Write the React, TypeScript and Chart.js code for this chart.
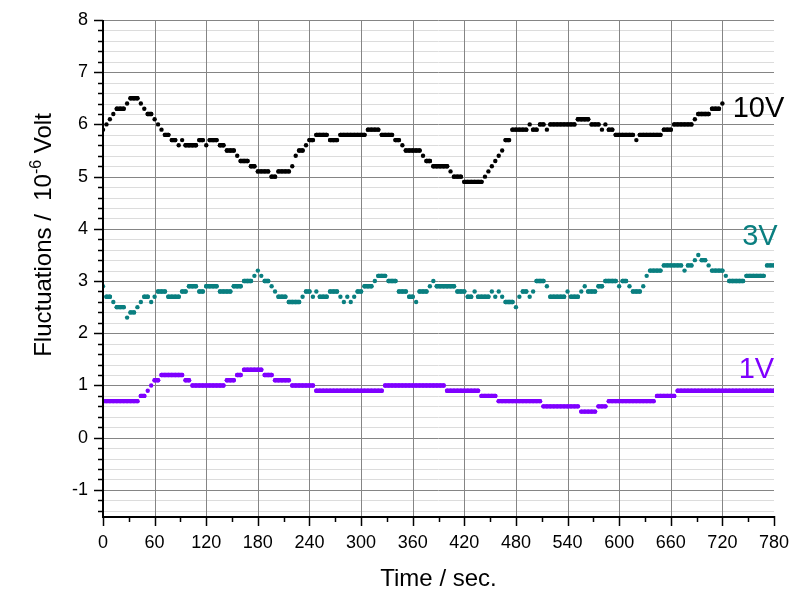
import { useEffect, useRef } from 'react';
import { Chart, registerables } from 'chart.js';

Chart.register(...registerables);

// Seconds between successive readings.
const SAMPLE_STEP = 4;

// Fluctuation readings (10^-6 V), one per sample, starting at t = 0 s.
const VOLT_10 = [
  5.9, 6.0, 6.1, 6.2, 6.3, 6.3, 6.3, 6.4, 6.5, 6.5,
  6.5, 6.4, 6.3, 6.2, 6.2, 6.1, 6.0, 5.9, 5.8, 5.8,
  5.7, 5.7, 5.6, 5.7, 5.6, 5.6, 5.6, 5.6, 5.7, 5.7,
  5.6, 5.7, 5.7, 5.7, 5.6, 5.6, 5.5, 5.5, 5.5, 5.4,
  5.3, 5.3, 5.3, 5.2, 5.2, 5.1, 5.1, 5.1, 5.1, 5.0,
  5.0, 5.1, 5.1, 5.1, 5.1, 5.2, 5.4, 5.5, 5.5, 5.6,
  5.7, 5.7, 5.8, 5.8, 5.8, 5.8, 5.7, 5.7, 5.7, 5.8,
  5.8, 5.8, 5.8, 5.8, 5.8, 5.8, 5.8, 5.9, 5.9, 5.9,
  5.9, 5.8, 5.8, 5.8, 5.8, 5.7, 5.7, 5.6, 5.5, 5.5,
  5.5, 5.5, 5.5, 5.4, 5.3, 5.3, 5.2, 5.2, 5.2, 5.2,
  5.2, 5.1, 5.0, 5.0, 5.0, 4.9, 4.9, 4.9, 4.9, 4.9,
  4.9, 5.0, 5.1, 5.2, 5.3, 5.4, 5.5, 5.7, 5.7, 5.9,
  5.9, 5.9, 5.9, 5.9, 6.0, 5.9, 5.9, 6.0, 6.0, 5.9,
  6.0, 6.0, 6.0, 6.0, 6.0, 6.0, 6.0, 6.0, 6.1, 6.1,
  6.1, 6.1, 6.0, 6.0, 6.0, 5.9, 6.0, 5.9, 5.9, 5.8,
  5.8, 5.8, 5.8, 5.8, 5.8, 5.7, 5.8, 5.8, 5.8, 5.8,
  5.8, 5.8, 5.8, 5.9, 5.9, 5.9, 6.0, 6.0, 6.0, 6.0,
  6.0, 6.0, 6.1, 6.2, 6.2, 6.2, 6.2, 6.3, 6.3, 6.3,
  6.4,
];

const VOLT_3 = [
  2.9, 2.7, 2.7, 2.6, 2.5, 2.5, 2.5, 2.3, 2.4, 2.4,
  2.5, 2.6, 2.7, 2.7, 2.6, 2.7, 2.8, 2.8, 2.8, 2.7,
  2.7, 2.7, 2.7, 2.8, 2.8, 2.9, 2.9, 2.9, 2.8, 2.8,
  2.9, 2.9, 2.9, 2.9, 2.8, 2.8, 2.8, 2.8, 2.9, 2.9,
  2.9, 3.0, 3.0, 3.0, 3.1, 3.2, 3.1, 3.0, 3.0, 2.9,
  2.8, 2.7, 2.7, 2.7, 2.6, 2.6, 2.6, 2.6, 2.7, 2.8,
  2.8, 2.7, 2.8, 2.7, 2.7, 2.7, 2.8, 2.8, 2.8, 2.7,
  2.6, 2.7, 2.6, 2.7, 2.8, 2.8, 2.9, 2.9, 2.9, 3.0,
  3.1, 3.1, 3.1, 3.0, 3.0, 3.0, 2.8, 2.8, 2.8, 2.7,
  2.7, 2.6, 2.8, 2.8, 2.8, 2.9, 3.0, 2.9, 2.9, 2.9,
  2.9, 2.9, 2.9, 2.8, 2.8, 2.8, 2.7, 2.7, 2.8, 2.7,
  2.7, 2.7, 2.7, 2.8, 2.7, 2.8, 2.7, 2.6, 2.6, 2.6,
  2.5, 2.7, 2.8, 2.8, 2.7, 2.8, 3.0, 3.0, 3.0, 2.9,
  2.7, 2.7, 2.7, 2.7, 2.7, 2.8, 2.7, 2.7, 2.7, 2.8,
  2.9, 2.8, 2.8, 2.8, 2.9, 2.9, 3.0, 3.0, 3.0, 3.0,
  2.9, 3.0, 3.0, 2.9, 2.8, 2.8, 2.8, 2.9, 3.1, 3.2,
  3.2, 3.2, 3.2, 3.3, 3.3, 3.3, 3.3, 3.3, 3.3, 3.2,
  3.3, 3.3, 3.4, 3.5, 3.4, 3.4, 3.3, 3.2, 3.2, 3.2,
  3.2, 3.1, 3.0, 3.0, 3.0, 3.0, 3.0, 3.1, 3.1, 3.1,
  3.1, 3.1, 3.1, 3.3, 3.3, 3.3,
];

const VOLT_1 = [
  0.7, 0.7, 0.7, 0.7, 0.7, 0.7, 0.7, 0.7, 0.7, 0.7,
  0.7, 0.8, 0.8, 0.9, 1.0, 1.1, 1.1, 1.2, 1.2, 1.2,
  1.2, 1.2, 1.2, 1.2, 1.1, 1.1, 1.0, 1.0, 1.0, 1.0,
  1.0, 1.0, 1.0, 1.0, 1.0, 1.0, 1.1, 1.1, 1.1, 1.2,
  1.2, 1.3, 1.3, 1.3, 1.3, 1.3, 1.3, 1.2, 1.2, 1.2,
  1.1, 1.1, 1.1, 1.1, 1.1, 1.0, 1.0, 1.0, 1.0, 1.0,
  1.0, 1.0, 0.9, 0.9, 0.9, 0.9, 0.9, 0.9, 0.9, 0.9,
  0.9, 0.9, 0.9, 0.9, 0.9, 0.9, 0.9, 0.9, 0.9, 0.9,
  0.9, 0.9, 1.0, 1.0, 1.0, 1.0, 1.0, 1.0, 1.0, 1.0,
  1.0, 1.0, 1.0, 1.0, 1.0, 1.0, 1.0, 1.0, 1.0, 1.0,
  0.9, 0.9, 0.9, 0.9, 0.9, 0.9, 0.9, 0.9, 0.9, 0.9,
  0.8, 0.8, 0.8, 0.8, 0.8, 0.7, 0.7, 0.7, 0.7, 0.7,
  0.7, 0.7, 0.7, 0.7, 0.7, 0.7, 0.7, 0.7, 0.6, 0.6,
  0.6, 0.6, 0.6, 0.6, 0.6, 0.6, 0.6, 0.6, 0.6, 0.5,
  0.5, 0.5, 0.5, 0.5, 0.6, 0.6, 0.6, 0.7, 0.7, 0.7,
  0.7, 0.7, 0.7, 0.7, 0.7, 0.7, 0.7, 0.7, 0.7, 0.7,
  0.7, 0.8, 0.8, 0.8, 0.8, 0.8, 0.8, 0.9, 0.9, 0.9,
  0.9, 0.9, 0.9, 0.9, 0.9, 0.9, 0.9, 0.9, 0.9, 0.9,
  0.9, 0.9, 0.9, 0.9, 0.9, 0.9, 0.9, 0.9, 0.9, 0.9,
  0.9, 0.9, 0.9, 0.9, 0.9, 0.9,
];

const SERIES_NAMES = ['10V', '3V', '1V'];
const X_TICKS = [0, 60, 120, 180, 240, 300, 360, 420, 480, 540, 600, 660, 720, 780];
const Y_TICKS = [-1, 0, 1, 2, 3, 4, 5, 6, 7, 8];

// Axis ranges and minor subdivisions.
const X_MIN = 0;
const X_MAX = 780;
const X_MINOR = 30;
const Y_MIN = -1.5;
const Y_MAX = 8;
const Y_MINOR_PER_UNIT = 5;

// Styling.
const FONT = '"Liberation Sans", Arial, sans-serif';
const COLORS = ['#000000', '#0a7f80', '#7f00ff'];
const NAME_ANCHORS: [number, number][] = [
  [732, 6.14],
  [743, 3.69],
  [739, 1.14],
];
const MARK_SIZE = 4.4;

const toPoints = (values: number[]) =>
  values.map((v, i) => ({ x: i * SAMPLE_STEP, y: v }));

const gridAndAxes = {
  id: 'gridAndAxes',
  beforeDatasetsDraw(chart: any) {
    const { ctx, chartArea } = chart;
    const { left, right, top, bottom } = chartArea;
    const xs = chart.scales.x;
    const ys = chart.scales.y;
    ctx.save();
    ctx.lineWidth = 1;
    // minor horizontal lines
    ctx.strokeStyle = '#dcdcdc';
    const kMin = Math.ceil(Y_MIN * Y_MINOR_PER_UNIT);
    const kMax = Math.floor(Y_MAX * Y_MINOR_PER_UNIT);
    for (let k = kMin; k <= kMax; k++) {
      if (k % Y_MINOR_PER_UNIT === 0) continue;
      const py = Math.round(ys.getPixelForValue(k / Y_MINOR_PER_UNIT)) + 0.5;
      ctx.beginPath();
      ctx.moveTo(left, py);
      ctx.lineTo(right, py);
      ctx.stroke();
    }
    // major horizontal lines
    ctx.strokeStyle = '#858585';
    for (const v of Y_TICKS) {
      const py = Math.round(ys.getPixelForValue(v)) + 0.5;
      ctx.beginPath();
      ctx.moveTo(left, py);
      ctx.lineTo(right, py);
      ctx.stroke();
    }
    // vertical lines
    for (const v of X_TICKS) {
      if (v === X_MIN || v === X_MAX) continue;
      const px = Math.round(xs.getPixelForValue(v)) + 0.5;
      ctx.beginPath();
      ctx.moveTo(px, top);
      ctx.lineTo(px, bottom);
      ctx.stroke();
    }
    ctx.restore();
  },
  afterDatasetsDraw(chart: any) {
    const { ctx, chartArea } = chart;
    const { left, right, top, bottom } = chartArea;
    const xs = chart.scales.x;
    const ys = chart.scales.y;
    ctx.save();
    ctx.strokeStyle = '#000';
    ctx.lineWidth = 2;
    ctx.beginPath();
    ctx.moveTo(left, top);
    ctx.lineTo(left, bottom + 1);
    ctx.lineTo(right, bottom + 1);
    ctx.stroke();

    ctx.lineWidth = 1.5;
    // y ticks
    const kMin = Math.ceil(Y_MIN * Y_MINOR_PER_UNIT);
    const kMax = Math.floor(Y_MAX * Y_MINOR_PER_UNIT);
    for (let k = kMin; k <= kMax; k++) {
      const major = k % Y_MINOR_PER_UNIT === 0;
      const py = Math.round(ys.getPixelForValue(k / Y_MINOR_PER_UNIT)) + 0.5;
      ctx.beginPath();
      ctx.moveTo(left - (major ? 9 : 5), py);
      ctx.lineTo(left, py);
      ctx.stroke();
    }
    // x ticks
    for (let v = X_MIN; v <= X_MAX; v += X_MINOR) {
      const major = X_TICKS.includes(v);
      const px = Math.round(xs.getPixelForValue(v)) + 0.5;
      ctx.beginPath();
      ctx.moveTo(px, bottom);
      ctx.lineTo(px, bottom + (major ? 10 : 6));
      ctx.stroke();
    }
    ctx.restore();
  },
  afterDraw(chart: any) {
    const { ctx, chartArea } = chart;
    const xs = chart.scales.x;
    const ys = chart.scales.y;
    ctx.save();
    // series names
    ctx.font = `29px ${FONT}`;
    ctx.textAlign = 'left';
    ctx.textBaseline = 'alphabetic';
    SERIES_NAMES.forEach((name, i) => {
      ctx.fillStyle = COLORS[i];
      const [ax, ay] = NAME_ANCHORS[i];
      ctx.fillText(name, xs.getPixelForValue(ax), ys.getPixelForValue(ay));
    });

    // x axis title
    ctx.fillStyle = '#000';
    ctx.font = `24px ${FONT}`;
    ctx.textAlign = 'center';
    ctx.fillText('Time / sec.', (chartArea.left + chartArea.right) / 2, 586);

    // y axis title with superscript exponent
    const head = 'Fluctuations /  10';
    const exp = '-6';
    const tail = ' Volt';
    ctx.font = `24px ${FONT}`;
    const wHead = ctx.measureText(head).width;
    const wTail = ctx.measureText(tail).width;
    ctx.font = `16px ${FONT}`;
    const wExp = ctx.measureText(exp).width;
    const total = wHead + wExp + wTail;
    ctx.translate(51, 235);
    ctx.rotate(-Math.PI / 2);
    ctx.textAlign = 'left';
    let cx = -total / 2;
    ctx.font = `24px ${FONT}`;
    ctx.fillText(head, cx, 0);
    cx += wHead;
    ctx.font = `16px ${FONT}`;
    ctx.fillText(exp, cx, -10);
    cx += wExp;
    ctx.font = `24px ${FONT}`;
    ctx.fillText(tail, cx, 0);
    ctx.restore();
  },
};

export default function App() {
  const canvasRef = useRef<HTMLCanvasElement>(null);

  useEffect(() => {
    const canvas = canvasRef.current;
    if (!canvas) return;
    const series = [VOLT_10, VOLT_3, VOLT_1];
    const chart = new Chart(canvas, {
      type: 'scatter',
      data: {
        datasets: series.map((values, i) => ({
          label: SERIES_NAMES[i],
          data: toPoints(values),
          showLine: true,
          borderWidth: MARK_SIZE,
          borderCapStyle: 'round',
          borderColor: COLORS[i],
          backgroundColor: COLORS[i],
          pointRadius: MARK_SIZE / 2,
          pointBorderWidth: 0,
          pointHoverRadius: MARK_SIZE / 2,
          segment: {
            borderColor: (c: any) =>
              c.p0.parsed.y === c.p1.parsed.y ? COLORS[i] : 'rgba(0,0,0,0)',
          },
        })),
      },
      options: {
        animation: false,
        responsive: false,
        devicePixelRatio: 1,
        layout: { padding: { top: 20, right: 17, left: 0, bottom: 0 } },
        plugins: { legend: { display: false }, tooltip: { enabled: false } },
        scales: {
          x: {
            type: 'linear',
            min: X_MIN,
            max: X_MAX,
            grid: { display: false, drawTicks: false },
            border: { display: false },
            afterBuildTicks: (s: any) => {
              s.ticks = X_TICKS.map((v) => ({ value: v }));
            },
            afterFit: (s: any) => {
              s.height = 74;
              s.paddingLeft = 0;
              s.paddingRight = 0;
            },
            ticks: {
              color: '#000',
              font: { family: FONT, size: 18 },
              padding: 16,
              maxRotation: 0,
              autoSkip: false,
              callback: (v: any) => String(v),
            },
          },
          y: {
            type: 'linear',
            min: Y_MIN,
            max: Y_MAX,
            grid: { display: false, drawTicks: false },
            border: { display: false },
            afterBuildTicks: (s: any) => {
              s.ticks = Y_TICKS.map((v) => ({ value: v }));
            },
            afterFit: (s: any) => {
              s.width = 103;
              s.paddingTop = 0;
              s.paddingBottom = 0;
            },
            ticks: {
              color: '#000',
              font: { family: FONT, size: 18 },
              padding: 15,
              autoSkip: false,
              callback: (v: any) => String(v),
            },
          },
        },
      },
      plugins: [gridAndAxes],
    } as any);
    return () => chart.destroy();
  }, []);

  return (
    <div style={{ position: 'absolute', left: 0, top: 0, width: 791, height: 590, background: '#fff' }}>
      <canvas ref={canvasRef} width={791} height={590} style={{ display: 'block' }} />
    </div>
  );
}
